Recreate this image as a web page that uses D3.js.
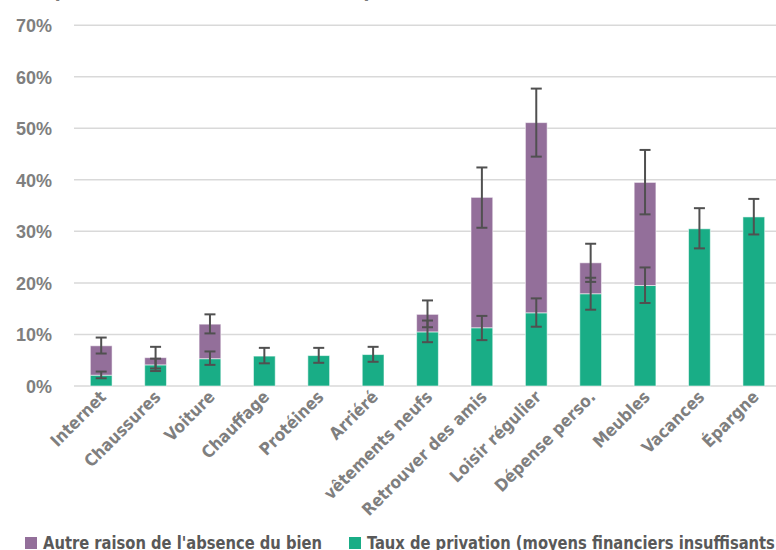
<!DOCTYPE html>
<html><head><meta charset="utf-8">
<script src="https://cdn.jsdelivr.net/npm/d3@7/dist/d3.min.js"></script>
<style>
html,body{margin:0;padding:0;background:#fff;}
svg{display:block;}
.nar{font-family:"Liberation Sans Narrow","DejaVu Sans Condensed",sans-serif;font-weight:bold;}
.ytick{font-family:"Liberation Sans",Arial,sans-serif;font-weight:bold;}
</style></head>
<body>
<svg id="chart" width="776" height="550"></svg>
<script>
const title = "Répartition des différents taux de privation selon la raison de l'absence du bien, en 2023";
const categories = ["Internet","Chaussures","Voiture","Chauffage","Protéines","Arriéré","vêtements neufs","Retrouver des amis","Loisir régulier","Dépense perso.","Meubles","Vacances","Épargne"];
const privation = [2.1, 4.1, 5.3, 5.8, 5.9, 6.1, 10.5, 11.3, 14.2, 17.9, 19.5, 30.5, 32.8];
const autre = [5.7, 1.4, 6.7, 0, 0, 0, 3.4, 25.3, 36.9, 6.0, 20.0, 0, 0];
const privLow = [1.5, 2.9, 4.1, 4.4, 4.5, 4.7, 8.5, 8.9, 11.5, 14.8, 16.1, 26.7, 29.4];
const privHigh = [2.8, 5.3, 6.7, 7.4, 7.4, 7.6, 12.7, 13.6, 17.0, 21.0, 23.0, 34.5, 36.3];
const totalLow = [6.3, 3.4, 10.2, null, null, null, 11.4, 30.7, 44.5, 20.2, 33.3, null, null];
const totalHigh = [9.4, 7.6, 13.9, null, null, null, 16.6, 42.4, 57.7, 27.6, 45.8, null, null];
const yTicks = [0, 10, 20, 30, 40, 50, 60, 70];
const seriesNames = ["Autre raison de l'absence du bien", "Taux de privation (moyens financiers insuffisants)"];
const colors = {autre: "#936f9a", priv: "#19ad86"};

const svg = d3.select("#chart");
const x = d3.scaleBand().domain(categories).range([74, 781]).paddingInner(0.6).paddingOuter(0.3);
const y = d3.scaleLinear().domain([0, 70]).range([386, 25.2]);

// title (mostly cut off at top, as in the reference)
svg.append("text").attr("class","nar").attr("x", 30).attr("y", -3)
  .attr("font-size", 19).attr("fill", "#7a7a7a").text(title);

// gridlines
svg.append("g").selectAll("line").data(yTicks).join("line")
  .attr("x1", 74).attr("x2", 776)
  .attr("y1", d => y(d)).attr("y2", d => y(d))
  .attr("stroke", "#d9d9d9").attr("stroke-width", 1.5);

// y axis labels
const yAxis = d3.axisLeft(y).tickValues(yTicks).tickFormat(d => d + "%").tickSize(0).tickPadding(0);
const ga = svg.append("g").attr("transform", "translate(52,0)").call(yAxis);
ga.select(".domain").remove();
ga.selectAll("text").attr("class","ytick").attr("font-size", 18).attr("fill", "#7f7f7f").attr("dy", "0.35em");

// stacked bars
const rows = categories.map((c, i) => ({cat: c, priv: privation[i], autre: autre[i]}));
const stack = d3.stack().keys(["priv", "autre"])(rows);
svg.append("g").selectAll("g").data(stack).join("g")
  .attr("fill", d => colors[d.key])
  .selectAll("rect").data(d => d).join("rect")
  .attr("x", d => x(d.data.cat))
  .attr("width", x.bandwidth())
  .attr("y", d => y(d[1]))
  .attr("height", d => y(d[0]) - y(d[1]))
  .attr("stroke", "#ffffff").attr("stroke-opacity", 0.55).attr("stroke-width", 1);

// error bars
const errs = [];
categories.forEach((c, i) => {
  errs.push({cat: c, lo: privLow[i], hi: privHigh[i]});
  if (totalLow[i] != null) errs.push({cat: c, lo: totalLow[i], hi: totalHigh[i]});
});
const eg = svg.append("g").attr("stroke", "#505050").attr("stroke-width", 2);
const cw = 5.5;
errs.forEach(e => {
  const cx = x(e.cat) + x.bandwidth() / 2;
  eg.append("line").attr("x1", cx).attr("x2", cx).attr("y1", y(e.lo)).attr("y2", y(e.hi));
  eg.append("line").attr("x1", cx - cw).attr("x2", cx + cw).attr("y1", y(e.lo)).attr("y2", y(e.lo));
  eg.append("line").attr("x1", cx - cw).attr("x2", cx + cw).attr("y1", y(e.hi)).attr("y2", y(e.hi));
});

// x labels
svg.append("g").selectAll("text").data(categories).join("text")
  .attr("class","nar")
  .attr("transform", d => `translate(${x(d) + x.bandwidth()/2 + 6},${398}) rotate(-45)`)
  .attr("text-anchor", "end")
  .attr("font-size", 17).attr("fill", "#7f7f7f")
  .text(d => d);

// legend
const leg = [{name: seriesNames[0], color: colors.autre, x: 25}, {name: seriesNames[1], color: colors.priv, x: 349}];
const lg = svg.append("g");
let factor = null;
leg.forEach((l, i) => {
  lg.append("rect").attr("x", l.x).attr("y", 537).attr("width", 12).attr("height", 12).attr("fill", l.color);
  const t = lg.append("text").attr("class","nar").attr("x", l.x + 18).attr("y", 549)
    .attr("font-size", 18).attr("fill", "#595959").text(l.name);
  const w = t.node().getComputedTextLength();
  if (factor === null) factor = 279 / w;
  t.attr("textLength", w * factor).attr("lengthAdjust", "spacingAndGlyphs");
});
</script>
</body></html>
